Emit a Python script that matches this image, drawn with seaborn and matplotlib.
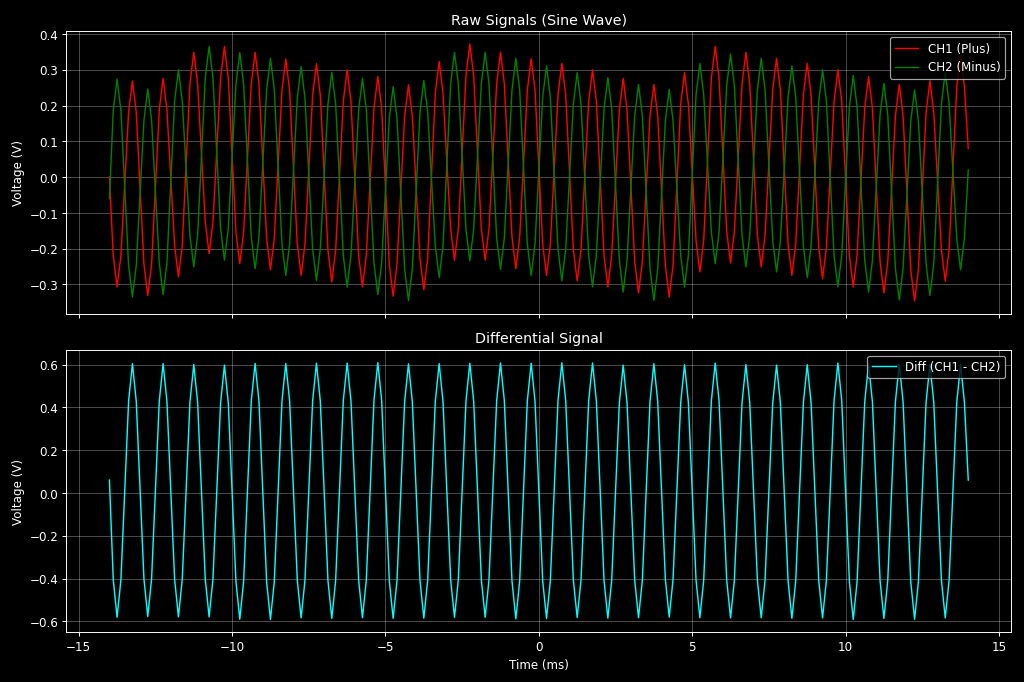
import numpy as np
import pandas as pd
import seaborn as sns
import matplotlib.pyplot as plt

plt.style.use('dark_background')

# times (ms) of the peaks / troughs
peak_t_ms = [-13.75, -13.25, -12.75, -12.25, -11.75, -11.25, -10.75, -10.25,
             -9.75, -9.25, -8.75, -8.25, -7.75, -7.25, -6.75, -6.25, -5.75, -5.25,
             -4.75, -4.25, -3.75, -3.25, -2.75, -2.25, -1.75, -1.25, -0.75, -0.25,
             0.25, 0.75, 1.25, 1.75, 2.25, 2.75, 3.25, 3.75, 4.25, 4.75,
             5.25, 5.75, 6.25, 6.75, 7.25, 7.75, 8.25, 8.75, 9.25, 9.75,
             10.25, 10.75, 11.25, 11.75, 12.25, 12.75, 13.25, 13.75]
shoulder_ms = 0.125          # shoulder samples either side of each peak
start_t, end_t = -14.0, 14.0

# CH1 (plus) : peak/trough value and the level on its shoulders (V)
ch1_peak = [-0.307, 0.269, -0.331, 0.276, -0.279, 0.349, -0.214, 0.365,
            -0.242, 0.349, -0.259, 0.330, -0.275, 0.317, -0.293, 0.300, -0.307, 0.281,
            -0.333, 0.258, -0.315, 0.323, -0.232, 0.372, -0.232, 0.349, -0.256, 0.331,
            -0.275, 0.318, -0.290, 0.300, -0.307, 0.276, -0.324, 0.259, -0.335, 0.292,
            -0.265, 0.365, -0.240, 0.349, -0.251, 0.332, -0.275, 0.318, -0.284, 0.300,
            -0.307, 0.281, -0.324, 0.259, -0.346, 0.269, -0.291, 0.340]
ch1_shoulder = [-0.219, 0.181, -0.243, 0.188, -0.191, 0.261, -0.126, 0.277,
                -0.154, 0.261, -0.171, 0.242, -0.187, 0.229, -0.205, 0.212, -0.219, 0.193,
                -0.245, 0.170, -0.227, 0.235, -0.144, 0.284, -0.144, 0.261, -0.168, 0.243,
                -0.187, 0.230, -0.202, 0.212, -0.219, 0.188, -0.236, 0.171, -0.247, 0.204,
                -0.177, 0.277, -0.152, 0.261, -0.163, 0.244, -0.187, 0.230, -0.196, 0.212,
                -0.219, 0.193, -0.236, 0.171, -0.258, 0.181, -0.203, 0.252]
ch1_start, ch1_end = 0.0, 0.08

# CH2 (minus)
ch2_peak = [0.274, -0.335, 0.246, -0.328, 0.300, -0.251, 0.365, -0.232,
            0.348, -0.256, 0.332, -0.275, 0.309, -0.289, 0.293, -0.307, 0.276, -0.328,
            0.253, -0.345, 0.270, -0.281, 0.349, -0.234, 0.349, -0.258, 0.332, -0.275,
            0.311, -0.290, 0.292, -0.307, 0.278, -0.321, 0.259, -0.345, 0.245, -0.307,
            0.318, -0.242, 0.344, -0.251, 0.332, -0.265, 0.311, -0.281, 0.300, -0.307,
            0.284, -0.321, 0.262, -0.343, 0.244, -0.331, 0.293, -0.259]
ch2_shoulder = [0.186, -0.247, 0.158, -0.240, 0.212, -0.163, 0.277, -0.144,
                0.260, -0.168, 0.244, -0.187, 0.221, -0.201, 0.205, -0.219, 0.188, -0.240,
                0.165, -0.257, 0.182, -0.193, 0.261, -0.146, 0.261, -0.170, 0.244, -0.187,
                0.223, -0.202, 0.204, -0.219, 0.190, -0.233, 0.171, -0.257, 0.157, -0.219,
                0.230, -0.154, 0.256, -0.163, 0.244, -0.177, 0.223, -0.193, 0.212, -0.219,
                0.196, -0.233, 0.174, -0.255, 0.156, -0.243, 0.205, -0.171]
ch2_start, ch2_end = -0.06, 0.02


def assemble(peaks, shoulders, v0, v1):
    t, v = [start_t], [v0]
    for tp, p, s in zip(peak_t_ms, peaks, shoulders):
        t += [tp - shoulder_ms, tp, tp + shoulder_ms]
        v += [s, p, s]
    t.append(end_t)
    v.append(v1)
    return t, v


time, ch1 = assemble(ch1_peak, ch1_shoulder, ch1_start, ch1_end)
_, ch2 = assemble(ch2_peak, ch2_shoulder, ch2_start, ch2_end)

df = pd.DataFrame({'time': time, 'ch1': ch1, 'ch2': ch2})
df['diff'] = df['ch1'] - df['ch2']

fig, (ax1, ax2) = plt.subplots(2, 1, figsize=(12, 8), sharex=True)

sns.lineplot(data=df, x='time', y='ch1', ax=ax1, color='red', linewidth=1.2,
             label='CH1 (Plus)', estimator=None)
sns.lineplot(data=df, x='time', y='ch2', ax=ax1, color='green', linewidth=1.2,
             label='CH2 (Minus)', estimator=None)
ax1.set_title('Raw Signals (Sine Wave)')
ax1.set_xlabel('')
ax1.set_ylabel('Voltage (V)')
ax1.grid(True, alpha=0.3)
ax1.legend(loc='upper right')

sns.lineplot(data=df, x='time', y='diff', ax=ax2, color='cyan', linewidth=1.2,
             label='Diff (CH1 - CH2)', estimator=None)
ax2.set_title('Differential Signal')
ax2.set_xlabel('Time (ms)')
ax2.set_ylabel('Voltage (V)')
ax2.grid(True, alpha=0.3)
ax2.legend(loc='upper right')

plt.tight_layout()
fig.savefig('out.png', dpi=1024 / 12)
